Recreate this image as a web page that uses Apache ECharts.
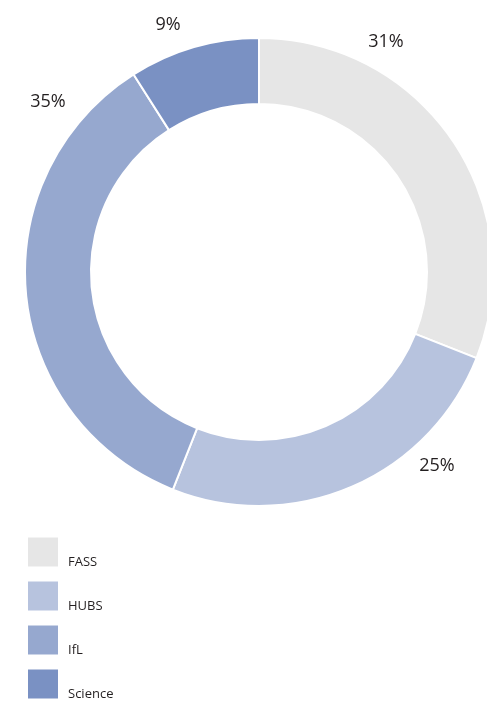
<!DOCTYPE html>
<html>
<head>
<meta charset="utf-8">
<script src="https://cdn.jsdelivr.net/npm/echarts@6/dist/echarts.min.js"></script>
<style>
html,body{margin:0;padding:0;background:#fff;}
#chart{width:487px;height:706px;}
</style>
</head>
<body>
<div id="chart"></div>
<script>
var categories = ['FASS', 'HUBS', 'IfL', 'Science'];
var values = [31, 25, 35, 9];
var colors = ['#e6e6e6', '#b7c3de', '#96a8cf', '#7a91c3'];
var labelPos = [[386, 42], [437, 466], [48, 102], [168, 25]];

var chart = echarts.init(document.getElementById('chart'));
chart.setOption({
  animation: false,
  color: colors,
  legend: {
    orient: 'vertical',
    left: 26,
    top: 532,
    height: 180,
    padding: 0,
    itemWidth: 32,
    itemHeight: 31,
    itemGap: 4,
    icon: 'rect',
    data: categories,
    formatter: function (name) { return '\n' + name; },
    textStyle: {
      fontFamily: 'Open Sans',
      fontSize: 13,
      lineHeight: 20,
      color: '#231f20',
      padding: [0, 0, 0, 4]
    }
  },
  series: [{
    type: 'pie',
    center: [259, 272],
    radius: [168, 234],
    startAngle: 90,
    clockwise: true,
    avoidLabelOverlap: false,
    itemStyle: { borderColor: '#ffffff', borderWidth: 2 },
    label: {
      show: true,
      position: 'outside',
      formatter: '{c}%',
      fontFamily: 'Open Sans',
      fontSize: 18,
      color: '#231f20'
    },
    labelLine: { show: false },
    labelLayout: function (p) {
      return { x: labelPos[p.dataIndex][0], y: labelPos[p.dataIndex][1], align: 'center', verticalAlign: 'middle' };
    },
    emphasis: { disabled: true },
    data: categories.map(function (c, i) { return { name: c, value: values[i] }; })
  }]
});
</script>
</body>
</html>
